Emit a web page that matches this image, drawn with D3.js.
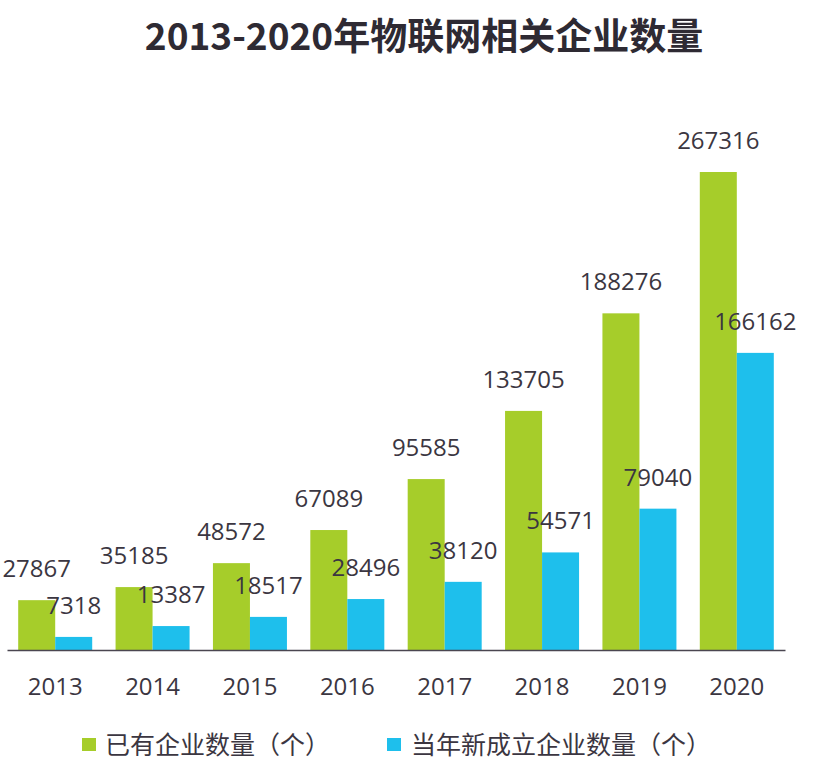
<!DOCTYPE html>
<html>
<head>
<meta charset="utf-8">
<script src="https://cdn.jsdelivr.net/npm/d3@7"></script>
<style>
  html, body { margin: 0; padding: 0; background: #fff; }
  svg { display: block; }
</style>
</head>
<body>
<svg id="chart" width="828" height="766"></svg>
<script>
const years = ["2013", "2014", "2015", "2016", "2017", "2018", "2019", "2020"];
const existing = [27867, 35185, 48572, 67089, 95585, 133705, 188276, 267316];
const newlyFounded = [7318, 13387, 18517, 28496, 38120, 54571, 79040, 166162];
const seriesNames = ["已有企业数量（个）", "当年新成立企业数量（个）"];
const seriesColors = ["#a6cd2a", "#1ebfec"];
const titleText = "2013-2020年物联网相关企业数量";

const svg = d3.select("#chart");
const textColor = "#3b3641";
const numFont = "'Open Sans', 'DejaVu Sans', sans-serif";
const cjkFont = "'Noto Sans CJK SC', sans-serif";

const baseline = 650;
const x = d3.scaleBand().domain(years).range([7, 785]).paddingInner(0.24).paddingOuter(0.115);
const x1 = d3.scaleBand().domain([0, 1]).range([0, x.bandwidth()]).padding(0);
const y = d3.scaleLinear().domain([0, 267316]).range([baseline, 172]);

// title
svg.append("text")
  .attr("x", 424).attr("y", 50)
  .attr("text-anchor", "middle")
  .attr("font-family", cjkFont)
  .attr("font-weight", "bold")
  .attr("font-size", 37)
  .attr("fill", "#2e2a33")
  .text(titleText);

const data = years.map((yr, i) => ({ year: yr, values: [existing[i], newlyFounded[i]] }));

const groups = svg.append("g").selectAll("g").data(data).join("g")
  .attr("transform", d => `translate(${x(d.year)},0)`);

groups.selectAll("rect").data(d => d.values.map((v, k) => ({ v, k }))).join("rect")
  .attr("x", d => x1(d.k))
  .attr("width", x1.bandwidth())
  .attr("y", d => y(d.v))
  .attr("height", d => baseline - y(d.v))
  .attr("fill", d => seriesColors[d.k]);

groups.selectAll("text.val").data(d => d.values.map((v, k) => ({ v, k }))).join("text")
  .attr("class", "val")
  .attr("x", d => x1(d.k) + x1.bandwidth() / 2)
  .attr("y", d => y(d.v) - 23)
  .attr("text-anchor", "middle")
  .attr("font-family", numFont)
  .attr("font-size", 24)
  .attr("fill", textColor)
  .text(d => d.v);

// axis
const axis = d3.axisBottom(x).tickSize(0).tickPadding(0);
const gAxis = svg.append("g").attr("transform", `translate(0,${baseline})`).call(axis);
gAxis.select(".domain").attr("stroke", "#4a4650").attr("stroke-width", 1.5);
gAxis.selectAll(".tick text")
  .attr("font-family", numFont)
  .attr("font-size", 24)
  .attr("fill", textColor)
  .attr("dy", null)
  .attr("y", 45);

// legend
const legendPos = [{ sx: 82, tx: 105 }, { sx: 387, tx: 411 }];
const legend = svg.append("g").selectAll("g").data(seriesNames).join("g");
legend.append("rect")
  .attr("x", (d, i) => legendPos[i].sx)
  .attr("y", 738)
  .attr("width", 14).attr("height", 13)
  .attr("fill", (d, i) => seriesColors[i]);
legend.append("text")
  .attr("x", (d, i) => legendPos[i].tx)
  .attr("y", 754)
  .attr("font-family", cjkFont)
  .attr("font-size", 25)
  .attr("fill", textColor)
  .text(d => d);
</script>
</body>
</html>
